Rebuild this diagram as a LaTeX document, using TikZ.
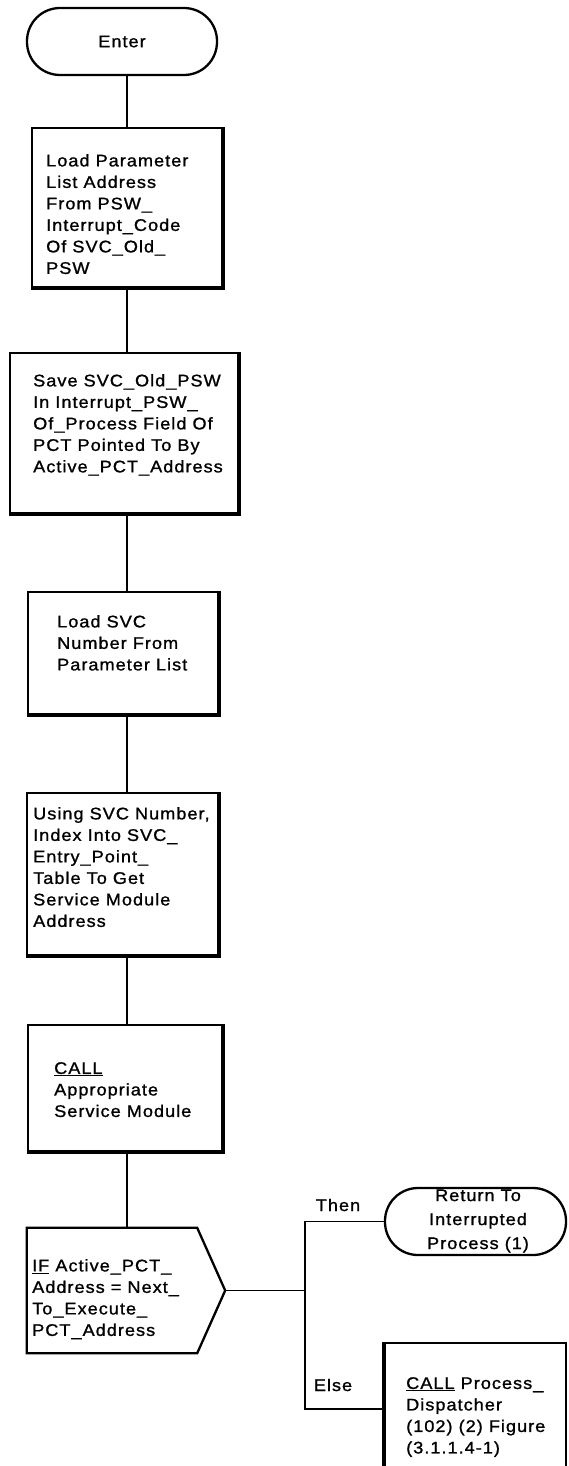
\documentclass[tikz,border=0pt]{standalone}
\usepackage{fontspec}
\setmainfont{Liberation Sans}[LetterSpace=6, FakeStretch=1.08, FakeBold=1.1]
\usetikzlibrary{calc}
\begin{document}
\begin{tikzpicture}[x=1pt,y=-1pt,
  every node/.style={inner sep=0pt, font=\fontsize{16.8}{21.5}\selectfont},
  frame/.style={draw, line width=2.3pt},
  term/.style={draw, line width=2.3pt, rounded corners=33pt, minimum height=67pt},
  heavy/.style={line width=3pt},
  txt/.style={anchor=north west, align=left},
  lbl/.style={anchor=center},
  flow/.style={line width=1.6pt}
]
\useasboundingbox (0,0) rectangle (568,1466);
\clip (0,0) rectangle (568,1466);

\coordinate (spine) at (127,0);

% start terminal
\node[term, minimum width=190pt] (enter) at (122,41.5) {Enter};

% process boxes, each with a heavier right and bottom edge
\node[frame, minimum width=190pt, minimum height=159pt] (b1) at (127,207.5) {};
\node[txt] (b1t) at (46,154) {Load Parameter\\List Address\\From PSW\_\\Interrupt\_Code\\Of SVC\_Old\_\\PSW};

\node[frame, minimum width=228pt, minimum height=160pt] (b2) at (124,433) {};
\node[txt] (b2t) at (33,374) {Save SVC\_Old\_PSW\\In Interrupt\_PSW\_\\Of\_Process Field Of\\PCT Pointed To By\\Active\_PCT\_Address};

\node[frame, minimum width=190pt, minimum height=122pt] (b3) at (123,653) {};
\node[txt] (b3t) at (57,615) {Load SVC\\Number From\\Parameter List};

\node[frame, minimum width=191pt, minimum height=162pt] (b4) at (122.5,874) {};
\node[txt] (b4t) at (33,807) {Using SVC Number,\\Index Into SVC\_\\Entry\_Point\_\\Table To Get\\Service Module\\Address};

\node[frame, minimum width=194pt, minimum height=126pt] (b5) at (125,1088) {};
\node[txt] (b5t) at (54,1062) {\underline{CALL}\\Appropriate\\Service Module};

\foreach \b in {b1,b2,b3,b4,b5}
  \draw[heavy, line cap=square] (\b.north east) -- (\b.south east) -- (\b.south west);

% decision
\node[minimum width=170pt, minimum height=125pt] (dec) at (112,1290.5) {};
\coordinate (tip) at ($(dec.east)+(28,0)$);
\draw[frame, line join=miter] (dec.north west) -- (dec.north east) -- (tip) -- (dec.south east) -- (dec.south west) -- cycle;
\node[txt] (dect) at (32,1259) {\underline{IF} Active\_PCT\_\\Address = Next\_\\To\_Execute\_\\PCT\_Address};

% outcomes
\node[term, minimum width=181pt] (ret) at (475.5,1221.5) {};
\node[align=center, font=\fontsize{16.8}{24}\selectfont] (rett) at (478,1221) {Return To\\Interrupted\\Process (1)};

\node[frame, minimum width=181pt, minimum height=132pt] (disp) at (475.5,1409) {};
\draw[heavy] (disp.north west) -- (disp.south west);
\node[txt] (dispt) at (406,1377) {\underline{CALL} Process\_\\Dispatcher\\(102) (2) Figure\\(3.1.1.4-1)};

\coordinate (fork) at (305,1290.5);
\node[lbl] (then) at (338,1205) {Then};
\node[lbl] (else) at (333,1385) {Else};

% connectors
\draw[flow] (enter.south -| spine) -- (b1.north -| spine);
\draw[flow] (b1.south -| spine) -- (b2.north -| spine);
\draw[flow] (b2.south -| spine) -- (b3.north -| spine);
\draw[flow] (b3.south -| spine) -- (b4.north -| spine);
\draw[flow] (b4.south -| spine) -- (b5.north -| spine);
\draw[flow] (b5.south -| spine) -- (dec.north -| spine);
\draw[flow] (tip) -- (fork);
\draw[flow] (ret.west) -| (fork) |- (disp.west);
\end{tikzpicture}
\end{document}
